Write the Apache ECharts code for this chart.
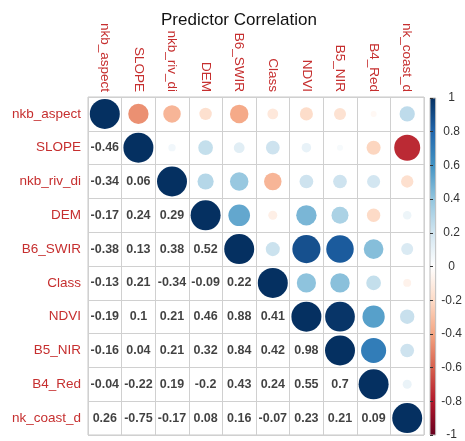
<!DOCTYPE html>
<html>
<head>
<meta charset="utf-8">
<style>
  html, body { margin: 0; padding: 0; background: #fff; }
  #chart { width: 465px; height: 441px; }
</style>
<script src="https://cdn.jsdelivr.net/npm/echarts@6/dist/echarts.min.js"></script>
</head>
<body>
<div id="chart"></div>
<script>
  'use strict';

  const variables = ['nkb_aspect', 'SLOPE', 'nkb_riv_di', 'DEM', 'B6_SWIR', 'Class', 'NDVI', 'B5_NIR', 'B4_Red', 'nk_coast_d'];

  // lower triangle, row by row (diagonal is 1)
  const rowSLOPE = [-0.46];
  const rowRiv = [-0.34, 0.06];
  const rowDEM = [-0.17, 0.24, 0.29];
  const rowSWIR = [-0.38, 0.13, 0.38, 0.52];
  const rowClass = [-0.13, 0.21, -0.34, -0.09, 0.22];
  const rowNDVI = [-0.19, 0.1, 0.21, 0.46, 0.88, 0.41];
  const rowNIR = [-0.16, 0.04, 0.21, 0.32, 0.84, 0.42, 0.98];
  const rowRed = [-0.04, -0.22, 0.19, -0.2, 0.43, 0.24, 0.55, 0.7];
  const rowCoast = [0.26, -0.75, -0.17, 0.08, 0.16, -0.07, 0.23, 0.21, 0.09];

  const lowerRows = [[], rowSLOPE, rowRiv, rowDEM, rowSWIR, rowClass, rowNDVI, rowNIR, rowRed, rowCoast];

  const paletteColors = ['#67001F', '#B2182B', '#D6604D', '#F4A582', '#FDDBC7', '#FFFFFF', '#D1E5F0', '#92C5DE', '#4393C3', '#2166AC', '#053061'];
  const legendTicks = [-1, -0.8, -0.6, -0.4, -0.2, 0, 0.2, 0.4, 0.6, 0.8, 1];

  function corr(i, j) {
    if (i === j) return 1;
    return i > j ? lowerRows[i][j] : lowerRows[j][i];
  }

  const circleData = [];
  const textData = [];
  for (let row = 0; row < variables.length; row++) {
    for (let col = 0; col < variables.length; col++) {
      if (col >= row) circleData.push([col, row, corr(row, col)]);
      else textData.push([col, row, corr(row, col)]);
    }
  }

  const labelRed = '#c62f2f';
  const font = "'Liberation Sans', Arial, sans-serif";

  const chart = echarts.init(document.getElementById('chart'));

  const gradient = new echarts.graphic.LinearGradient(0, 0, 0, 1,
    paletteColors.slice().reverse().map((c, i) => ({ offset: i / (paletteColors.length - 1), color: c })));

  chart.setOption({
    animation: false,
    textStyle: { fontFamily: font },
    title: {
      text: 'Predictor Correlation',
      left: 156,
      top: 7,
      textStyle: { fontSize: 17, fontWeight: 'normal', color: '#111', fontFamily: font }
    },
    visualMap: {
      show: false,
      type: 'continuous',
      min: -1,
      max: 1,
      dimension: 2,
      seriesIndex: 0,
      inRange: { color: paletteColors }
    },
    grid: [
      { left: 88, top: 97, width: 336, height: 338, show: true, borderColor: '#c8c8c8', borderWidth: 1 },
      { left: 430, top: 98, width: 12, height: 337, show: true, borderColor: '#bdbdbd', borderWidth: 1, backgroundColor: gradient }
    ],
    xAxis: [
      {
        type: 'category',
        data: variables,
        position: 'top',
        gridIndex: 0,
        axisLine: { show: false },
        axisTick: { show: false },
        splitLine: { show: true, interval: 0, lineStyle: { color: '#d0d0d0' } },
        axisLabel: { rotate: 90, interval: 0, margin: 5, color: labelRed, fontSize: 13.5, fontFamily: font }
      },
      { type: 'value', gridIndex: 1, show: false, min: 0, max: 1 }
    ],
    yAxis: [
      {
        type: 'category',
        data: variables,
        inverse: true,
        gridIndex: 0,
        axisLine: { show: false },
        axisTick: { show: false },
        splitLine: { show: true, interval: 0, lineStyle: { color: '#d0d0d0' } },
        axisLabel: { interval: 0, margin: 7, color: labelRed, fontSize: 13.5, fontFamily: font }
      },
      {
        type: 'value',
        gridIndex: 1,
        position: 'right',
        min: legendTicks[0],
        max: legendTicks[legendTicks.length - 1],
        interval: 0.2,
        axisLine: { show: false },
        axisTick: { show: true, inside: false, length: 3, lineStyle: { color: '#333' } },
        splitLine: { show: false },
        axisLabel: { margin: 16, align: 'center', color: '#333', fontSize: 12, fontFamily: font }
      }
    ],
    series: [
      {
        type: 'scatter',
        xAxisIndex: 0,
        yAxisIndex: 0,
        data: circleData,
        symbol: 'circle',
        symbolSize: d => Math.sqrt(Math.abs(d[2])) * 30,
        itemStyle: { opacity: 1 }
      },
      {
        type: 'scatter',
        xAxisIndex: 0,
        yAxisIndex: 0,
        data: textData,
        symbolSize: 1,
        itemStyle: { color: 'rgba(0,0,0,0)' },
        label: {
          show: true,
          position: 'inside',
          formatter: p => String(p.value[2]),
          color: '#111',
          fontSize: 12.5,
          fontWeight: 'bold',
          fontFamily: font
        }
      }
    ]
  });

  window.addEventListener('resize', () => chart.resize());
</script>
</body>
</html>
